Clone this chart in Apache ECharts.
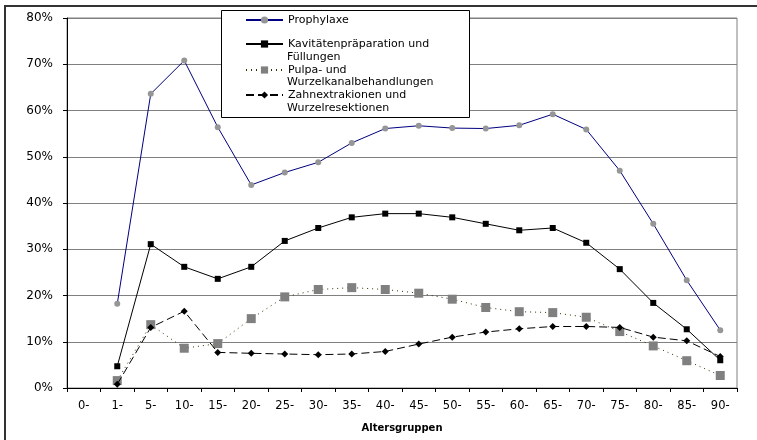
<!DOCTYPE html>
<html>
<head>
<meta charset="utf-8">
<script src="https://cdn.jsdelivr.net/npm/echarts@6/dist/echarts.min.js"></script>
<style>
html,body{margin:0;padding:0;background:#fff;}
#c{width:757px;height:440px;}
</style>
</head>
<body>
<div id="c"></div>
<script>
var categories = ['0-','1-','5-','10-','15-','20-','25-','30-','35-','40-','45-','50-','55-','60-','65-','70-','75-','80-','85-','90-'];
var yTicks = [0,10,20,30,40,50,60,70,80];
var prophylaxe = [null,18.2,63.6,70.8,56.4,43.9,46.6,48.8,53.0,56.1,56.7,56.2,56.1,56.8,59.2,55.9,47.0,35.5,23.3,12.5];
var kavitaeten = [null,4.7,31.1,26.2,23.6,26.2,31.8,34.6,36.9,37.7,37.7,36.9,35.5,34.1,34.6,31.4,25.7,18.4,12.7,6.0];
var pulpa = [null,1.6,13.7,8.6,9.6,15.0,19.7,21.3,21.7,21.3,20.5,19.2,17.4,16.5,16.3,15.3,12.2,9.1,5.9,2.7];
var zahn = [null,0.8,13.1,16.6,7.7,7.5,7.35,7.2,7.35,7.9,9.5,11.0,12.1,12.8,13.3,13.3,13.1,11.0,10.2,6.8];

var names = ['Prophylaxe','Kavitätenpräparation und Füllungen','Pulpa- und Wurzelkanalbehandlungen','Zahnextrakionen und Wurzelresektionen'];
var firstLines = {};
firstLines[names[0]] = 'Prophylaxe';
firstLines[names[1]] = 'Kavitätenpräparation und';
firstLines[names[2]] = 'Pulpa- und';
firstLines[names[3]] = 'Zahnextrakionen und';

var FONT = 'DejaVu Sans, Liberation Sans, Arial, sans-serif';
var chart = echarts.init(document.getElementById('c'));

function legendAt(name, top) {
  return {
    data: [name], left: 245, top: top, orient: 'vertical', padding: 0,
    itemWidth: 37, itemHeight: 9, itemGap: 0, z: 6, selectedMode: false,
    formatter: function (n) { return firstLines[n]; },
    textStyle: { fontFamily: FONT, fontSize: 11, color: '#000', lineHeight: 14 }
  };
}

chart.setOption({
  animation: false,
  backgroundColor: '#fff',
  grid: { left: 67, right: 20, top: 18, bottom: 52, show: true, borderColor: '#808080', borderWidth: 1 },
  legend: [legendAt(names[0], 13), legendAt(names[1], 37), legendAt(names[2], 63), legendAt(names[3], 88)],
  graphic: [
    { type: 'rect', z: 100, silent: true, shape: { x: 5, y: 6, width: 800, height: 500 }, style: { fill: 'none', stroke: '#333', lineWidth: 2 } },
    { type: 'rect', z: 5, silent: true, shape: { x: 221.5, y: 10.5, width: 248, height: 107 }, style: { fill: '#fff', stroke: '#000', lineWidth: 1 } },
    { type: 'text', z: 6, left: 287, top: 52, style: { text: 'Füllungen', font: '11px ' + FONT, fill: '#000' } },
    { type: 'text', z: 6, left: 287, top: 77, style: { text: 'Wurzelkanalbehandlungen', font: '11px ' + FONT, fill: '#000' } },
    { type: 'text', z: 6, left: 287, top: 103, style: { text: 'Wurzelresektionen', font: '11px ' + FONT, fill: '#000' } }
  ],
  xAxis: {
    type: 'category', data: categories, boundaryGap: true,
    name: 'Altersgruppen', nameLocation: 'middle', nameGap: 35,
    nameTextStyle: { fontFamily: FONT, fontSize: 10, fontWeight: 'bold', color: '#000' },
    axisLine: { lineStyle: { color: '#000', width: 1 } },
    axisTick: { show: true, length: 4, lineStyle: { color: '#000' }, alignWithLabel: false },
    axisLabel: { fontFamily: FONT, fontSize: 11.5, color: '#000', margin: 12, interval: 0 },
    splitLine: { show: false }
  },
  yAxis: {
    type: 'value', min: yTicks[0], max: yTicks[yTicks.length - 1], interval: 10,
    axisLine: { show: true, lineStyle: { color: '#000', width: 1 } },
    axisTick: { show: true, length: 4, inside: false, lineStyle: { color: '#000' } },
    axisLabel: { fontFamily: FONT, fontSize: 12, color: '#000', margin: 14, formatter: '{value}%' },
    splitLine: { show: true, lineStyle: { color: '#808080', width: 1 } }
  },
  series: [
    { name: names[0], type: 'line', data: prophylaxe, symbol: 'circle', symbolSize: 6,
      itemStyle: { color: '#969696' }, lineStyle: { color: '#000080', width: 1, type: 'solid' }, z: 4 },
    { name: names[1], type: 'line', data: kavitaeten, symbol: 'rect', symbolSize: 6,
      itemStyle: { color: '#000' }, lineStyle: { color: '#000', width: 1, type: 'solid' }, z: 4 },
    { name: names[2], type: 'line', data: pulpa, symbol: 'rect', symbolSize: 9,
      itemStyle: { color: '#808080' }, lineStyle: { color: '#333300', width: 1, type: [1, 4] }, z: 3 },
    { name: names[3], type: 'line', data: zahn, symbol: 'diamond', symbolSize: 7,
      itemStyle: { color: '#000' }, lineStyle: { color: '#000', width: 1, type: [8, 4] }, z: 4 }
  ]
});
</script>
</body>
</html>
